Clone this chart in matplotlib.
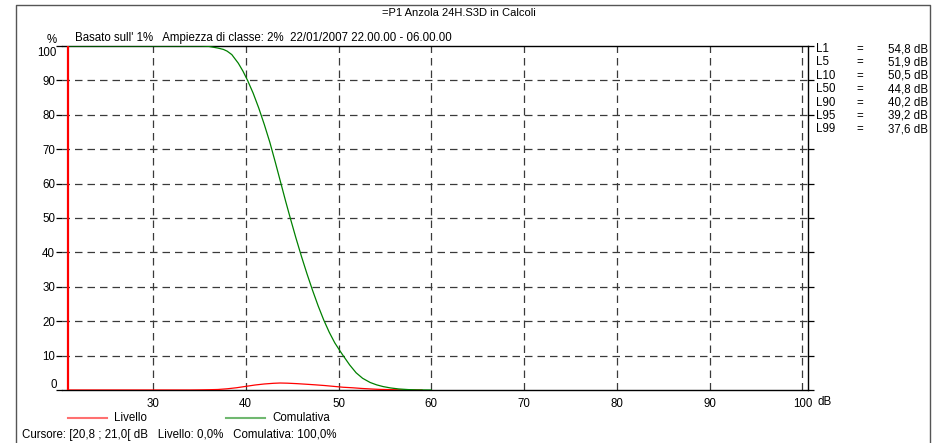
import matplotlib
matplotlib.use("Agg")
import matplotlib.pyplot as plt
from matplotlib.lines import Line2D

plt.rcParams['font.family'] = ['Liberation Sans', 'DejaVu Sans']

# cumulative distribution (% of time above level)
cum_db = [20.8, 35.0, 36.0, 37.0, 37.6, 38.0, 38.5, 39.2, 39.7, 40.2, 40.8, 41.4,
          42.0, 42.6, 43.2, 43.8, 44.3, 44.8, 45.4, 46.0, 46.6, 47.2, 47.8, 48.4,
          49.0, 49.6, 50.2, 50.5, 51.2, 51.9, 52.6, 53.4, 54.1, 54.8, 55.6, 56.5,
          57.5, 58.5, 60.0]
cum_pct = [100.0, 100.0, 99.9, 99.4, 99.0, 98.5, 97.5, 95.0, 92.7, 90.0, 86.3, 82.0,
           77.2, 72.0, 66.1, 60.0, 54.9, 50.0, 44.3, 38.9, 33.8, 29.0, 24.5, 20.4,
           16.8, 13.7, 11.2, 10.0, 7.3, 5.0, 3.4, 2.2, 1.5, 1.0, 0.6, 0.3,
           0.12, 0.04, 0.0]

# level distribution (% per 0.2 dB class)
lev_db = [20.8, 34.0, 35.0, 36.0, 37.0, 38.0, 39.0, 40.0, 41.0, 42.0, 43.0, 43.7,
          44.5, 45.5, 46.5, 47.5, 48.5, 49.5, 50.5, 51.5, 52.5, 53.5, 54.5, 55.5,
          56.5, 57.5, 59.0]
lev_pct = [0.0, 0.0, 0.03, 0.08, 0.15, 0.35, 0.65, 1.05, 1.45, 1.75, 1.95, 2.03,
           1.98, 1.85, 1.68, 1.5, 1.3, 1.05, 0.8, 0.65, 0.45, 0.3, 0.17, 0.12,
           0.06, 0.03, 0.0]

cursor_db = 20.9
x_ticks = [30, 40, 50, 60, 70, 80, 90, 100]
y_ticks = [0, 10, 20, 30, 40, 50, 60, 70, 80, 90, 100]

stat_names = ['L1', 'L5', 'L10', 'L50', 'L90', 'L95', 'L99']
stat_values = ['54,8 dB', '51,9 dB', '50,5 dB', '44,8 dB', '40,2 dB', '39,2 dB', '37,6 dB']

W, H = 935, 443
fig = plt.figure(figsize=(W / 100, H / 100), dpi=100)
ax = fig.add_axes([62 / W, 1 - 390 / H, (808 - 62) / W, (390 - 46) / H])

fs = 8.3
grid_kw = dict(color='#3a3a3a', linewidth=0.9, linestyle=(0, (6, 4)))

ax.set_xlim(20.2, 100.6)
ax.set_ylim(0, 100)
ax.set_xticks(x_ticks)
ax.set_yticks(y_ticks)
for xv in x_ticks:
    ax.axvline(xv, zorder=1, **grid_kw)
for yv in y_ticks[1:-1]:
    ax.axhline(yv, zorder=1, **grid_kw)

ax.plot(lev_db, lev_pct, color='#ff0000', linewidth=0.9, zorder=3)
ax.plot(cum_db, cum_pct, color='#008000', linewidth=0.9, zorder=3)
ax.axvline(cursor_db, color='#ff0000', linewidth=1.6, zorder=4)

ax.spines['left'].set_visible(False)
for s in ['top', 'right', 'bottom']:
    ax.spines[s].set_linewidth(1.0)
    ax.spines[s].set_color('black')

ax.tick_params(axis='x', length=0, pad=6, labelsize=fs)
ax.tick_params(axis='y', length=4, width=0.9, left=True, right=True, labelsize=fs, pad=1)
ylabels = [str(v) for v in y_ticks]
ylabels[0] = ''
ylabels[-1] = ''
ax.set_yticklabels(ylabels)
ax.annotate('0', xy=(0, 0), xycoords=('axes fraction', 'data'), xytext=(-5, 5),
            textcoords='offset pixels', ha='right', va='center', fontsize=fs)
ax.annotate('100', xy=(0, 100), xycoords=('axes fraction', 'data'), xytext=(-5, -7),
            textcoords='offset pixels', ha='right', va='center', fontsize=fs)
ax.annotate('dB', xy=(1, 0), xycoords='axes fraction', xytext=(9, -12),
            textcoords='offset pixels', ha='left', va='center', fontsize=fs)

# header texts
fig.text(459 / W, 1 - 12.5 / H, '=P1 Anzola 24H.S3D in Calcoli', ha='center', va='center', fontsize=8.0)
fig.text(52 / W, 1 - 40 / H, '%', ha='center', va='center', fontsize=fs)
fig.text(75 / W, 1 - 38 / H,
         "Basato sull' 1%   Ampiezza di classe: 2%  22/01/2007 22.00.00 - 06.00.00",
         ha='left', va='center', fontsize=fs)

# statistics table
for i, (n, v) in enumerate(zip(stat_names, stat_values)):
    yy = 1 - (49 + i * 13.4) / H
    fig.text(816 / W, yy, n, ha='left', va='center', fontsize=fs)
    fig.text(860 / W, yy, '=', ha='center', va='center', fontsize=fs)
    fig.text(928 / W, yy, v, ha='right', va='center', fontsize=fs)

# legend
ly = 1 - 418 / H
fig.add_artist(Line2D([68 / W, 107 / W], [ly, ly], color='#ff7070', linewidth=1.5))
fig.text(114 / W, ly, 'Livello', ha='left', va='center', fontsize=fs)
fig.add_artist(Line2D([226 / W, 265 / W], [ly, ly], color='#70b870', linewidth=1.5))
fig.text(272 / W, ly, 'Comulativa', ha='left', va='center', fontsize=fs)

fig.text(22 / W, 1 - 435 / H,
         'Cursore: [20,8 ; 21,0[ dB   Livello: 0,0%   Comulativa: 100,0%',
         ha='left', va='center', fontsize=fs)

# outer frame
fx0, fx1, fy0 = 16 / W, 930 / W, 1 - 4.5 / H
fig.add_artist(Line2D([fx0, fx0, fx1, fx1], [0, fy0, fy0, 0], color='#555555', linewidth=1.0))

fig.savefig('out.png', dpi=100)
